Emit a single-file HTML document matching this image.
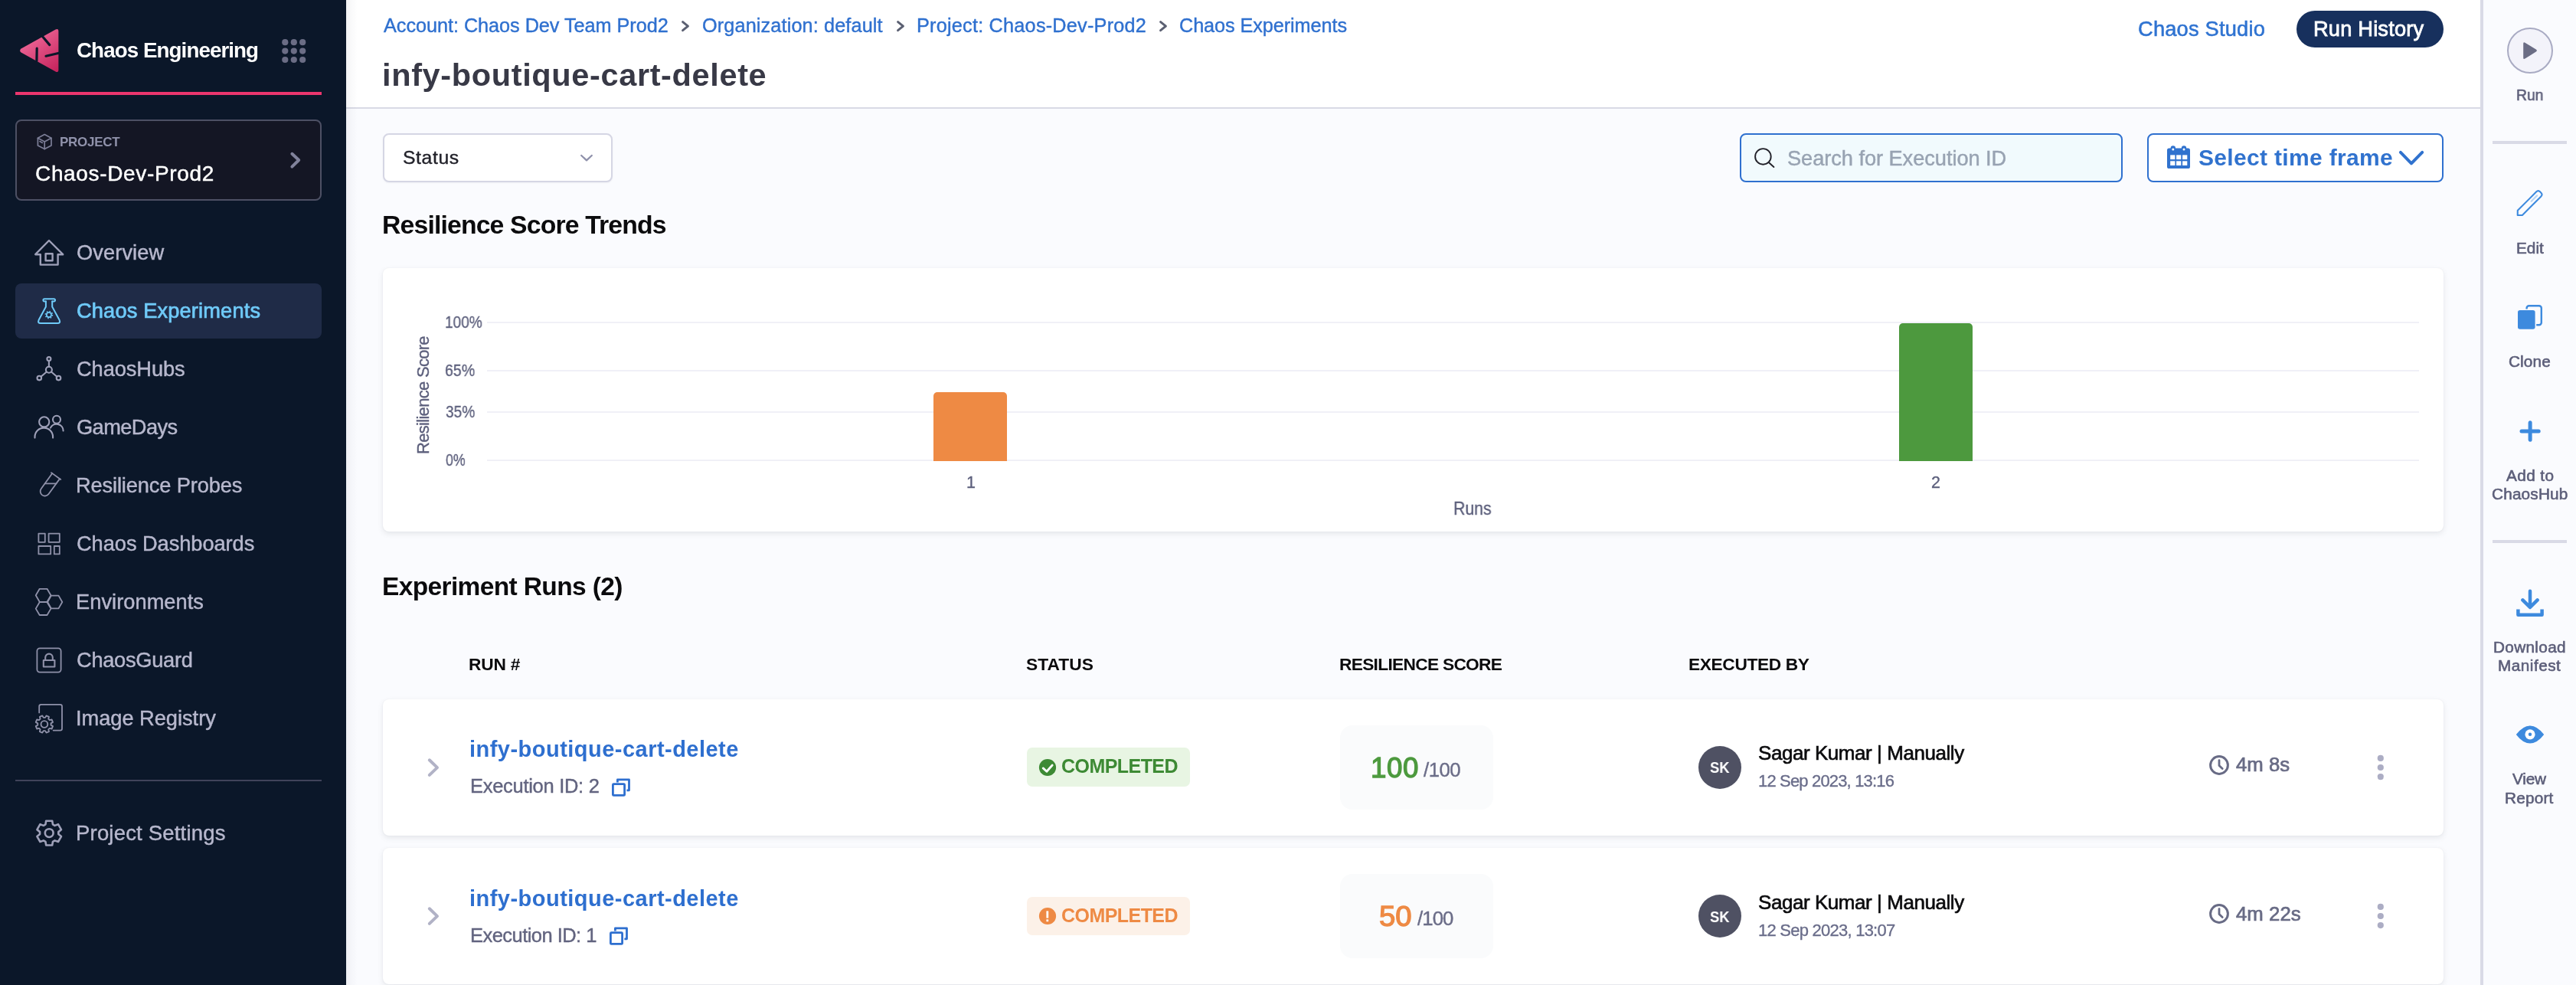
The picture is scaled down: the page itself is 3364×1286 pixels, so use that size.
<!DOCTYPE html>
<html lang="en">
<head>
<meta charset="utf-8">
<title>Chaos Engineering - infy-boutique-cart-delete</title>
<style>
*{box-sizing:border-box;margin:0;padding:0}
html,body{width:3364px;height:1286px;overflow:hidden;background:#fafbfe}
body{font-family:"Liberation Sans",sans-serif;color:#22222a;position:relative}
.abs{position:absolute}
.t{position:absolute;white-space:nowrap;line-height:1;will-change:transform}
svg{position:absolute;overflow:visible}
#side{position:absolute;left:0;top:0;width:452px;height:1286px;background:#0b1729}
</style>
</head>
<body>
<main id="main">
<div class="abs" style="left:500px;top:174px;width:300px;height:64px;border:2px solid #d5d6e4;border-radius:8px;background:#fff;box-shadow:0 1px 2px rgba(96,97,112,.08)"></div>
<div class="t" style="left:526.00px;top:193.80px;font-size:24.75px;letter-spacing:0.602px;color:#22222a;-webkit-text-stroke:0.4px #22222a;">Status</div>
<svg style="left:755px;top:199px;width:22px;height:15px;" viewBox="755 199 22 15"><path d="M759.2 203 L766 209.4 L772.8 203" fill="none" stroke="#8e90aa" stroke-width="2.2" stroke-linecap="round" stroke-linejoin="round"/></svg>
<div class="abs" style="left:2272px;top:174px;width:500px;height:64px;border:2px solid #2f70cf;border-radius:8px;background:#f1fafd"></div>
<svg style="left:2288px;top:190px;width:33px;height:33px;" viewBox="2288 190 33 33"><g fill="none" stroke="#22222a" stroke-width="1.9" stroke-linecap="round"><circle cx="2302.4" cy="204.4" r="10.3"/><path d="M2310 212.2 L2316.4 218"/></g></svg>
<div class="t" style="left:2334.22px;top:193.00px;font-size:27.25px;letter-spacing:-0.070px;color:#98a3b2;-webkit-text-stroke:0.44px #98a3b2;">Search for Execution ID</div>
<div class="abs" style="left:2804px;top:174px;width:387px;height:64px;border:2px solid #2f70cf;border-radius:8px;background:#fff"></div>
<svg style="left:2829px;top:189px;width:32px;height:32px;" viewBox="2829 189 32 32"><rect x="2830" y="193.6" width="30" height="26.4" rx="2.6" fill="#3072ce"/><rect x="2834.6" y="190.2" width="6.4" height="8.6" rx="3.2" fill="#3072ce"/><rect x="2848.8" y="190.2" width="6.4" height="8.6" rx="3.2" fill="#3072ce"/><circle cx="2837.8" cy="195" r="1.5" fill="#fff"/><circle cx="2852" cy="195" r="1.5" fill="#fff"/><rect x="2834.2" y="202.4" width="6.2" height="5.7" fill="#fff"/><rect x="2842.1" y="202.4" width="6.2" height="5.7" fill="#fff"/><rect x="2850.1" y="202.4" width="6.2" height="5.7" fill="#fff"/><rect x="2834.2" y="210.3" width="6.2" height="5.7" fill="#fff"/><rect x="2842.1" y="210.3" width="6.2" height="5.7" fill="#fff"/><rect x="2850.1" y="210.3" width="6.2" height="5.7" fill="#fff"/></svg>
<div class="t" style="left:2870.80px;top:191.00px;font-size:30px;letter-spacing:0.327px;color:#3072ce;font-weight:700;">Select time frame</div>
<svg style="left:3130px;top:194px;width:38px;height:24px;" viewBox="3130 194 38 24"><path d="M3134.9 198.9 L3149 213.3 L3163.2 198.9" fill="none" stroke="#3072ce" stroke-width="4" stroke-linecap="round" stroke-linejoin="round"/></svg>
<div class="t" style="left:499.20px;top:277.40px;font-size:33.75px;letter-spacing:-0.846px;color:#0b0b0d;font-weight:700;">Resilience Score Trends</div>
<div class="abs" style="left:500px;top:350px;width:2691px;height:344px;border-radius:8px;background:#fff;box-shadow:0 0 2px rgba(40,41,61,.06),0 3px 7px rgba(96,97,112,.13)"></div>
<div class="abs" style="left:636px;top:420px;width:2523px;height:2px;background:#f0f0f7"></div>
<div class="abs" style="left:636px;top:483px;width:2523px;height:2px;background:#f0f0f7"></div>
<div class="abs" style="left:636px;top:537px;width:2523px;height:2px;background:#f0f0f7"></div>
<div class="abs" style="left:636px;top:600px;width:2523px;height:2px;background:#f0f0f7"></div>
<div class="t" style="left:581.07px;top:411.10px;font-size:21.25px;letter-spacing:0.000px;color:#5c5f7c;transform:scaleX(0.8953);transform-origin:0 0;-webkit-text-stroke:0.34px #5c5f7c;">100%</div>
<div class="t" style="left:581.05px;top:474.10px;font-size:21.25px;letter-spacing:0.000px;color:#5c5f7c;transform:scaleX(0.9189);transform-origin:0 0;-webkit-text-stroke:0.34px #5c5f7c;">65%</div>
<div class="t" style="left:581.97px;top:528.10px;font-size:21.25px;letter-spacing:0.000px;color:#5c5f7c;transform:scaleX(0.8974);transform-origin:0 0;-webkit-text-stroke:0.34px #5c5f7c;">35%</div>
<div class="t" style="left:581.97px;top:591.10px;font-size:21.25px;letter-spacing:0.000px;color:#5c5f7c;transform:scaleX(0.8391);transform-origin:0 0;-webkit-text-stroke:0.34px #5c5f7c;">0%</div>
<div class="t" style="left:559.42px;top:574.30px;font-size:22px;letter-spacing:-0.699px;color:#5c5f7c;-webkit-text-stroke:0.35px #5c5f7c;transform-origin:1.00px 18.00px;transform:rotate(-90deg);">Resilience Score</div>
<div class="abs" style="left:1219px;top:512px;width:96px;height:90px;border-radius:5px 5px 0 0;background:#ee8a44"></div>
<div class="abs" style="left:2480px;top:422px;width:96px;height:180px;border-radius:5px 5px 0 0;background:#4d993e"></div>
<div class="t" style="left:1261.97px;top:620.20px;font-size:21.5px;letter-spacing:0.000px;color:#5c5f7c;-webkit-text-stroke:0.34px #5c5f7c;">1</div>
<div class="t" style="left:2521.97px;top:620.20px;font-size:21.5px;letter-spacing:0.000px;color:#5c5f7c;-webkit-text-stroke:0.34px #5c5f7c;">2</div>
<div class="t" style="left:1897.99px;top:652.20px;font-size:23.75px;letter-spacing:0.000px;color:#5c5f7c;transform:scaleX(0.8965);transform-origin:0 0;-webkit-text-stroke:0.38px #5c5f7c;">Runs</div>
<div class="t" style="left:499.40px;top:749.00px;font-size:33.5px;letter-spacing:-0.633px;color:#0b0b0d;font-weight:700;">Experiment Runs (2)</div>
<div class="t" style="left:611.80px;top:855.90px;font-size:22.75px;letter-spacing:-0.202px;color:#0b0b0d;font-weight:700;">RUN #</div>
<div class="t" style="left:1340.10px;top:855.90px;font-size:22.75px;letter-spacing:0.050px;color:#0b0b0d;font-weight:700;">STATUS</div>
<div class="t" style="left:1749.20px;top:855.90px;font-size:22.75px;letter-spacing:-0.718px;color:#0b0b0d;font-weight:700;">RESILIENCE SCORE</div>
<div class="t" style="left:2204.50px;top:855.90px;font-size:22.75px;letter-spacing:-0.383px;color:#0b0b0d;font-weight:700;">EXECUTED BY</div>
<div class="abs" style="left:500px;top:913px;width:2691px;height:178px;border-radius:8px;background:#fff;box-shadow:0 0 2px rgba(40,41,61,.06),0 3px 7px rgba(96,97,112,.13)"></div>
<svg style="left:556px;top:987px;width:20px;height:30px;" viewBox="556 987 20 30"><path d="M560.8 992.3 L571 1002.1 L560.8 1011.9" fill="none" stroke="#b1b2c6" stroke-width="4" stroke-linecap="round" stroke-linejoin="round"/></svg>
<div class="t" style="left:612.60px;top:964.00px;font-size:29px;letter-spacing:0.474px;color:#2e6fcf;font-weight:700;">infy-boutique-cart-delete</div>
<div class="t" style="left:613.81px;top:1014.10px;font-size:25.5px;letter-spacing:-0.289px;color:#62647f;-webkit-text-stroke:0.41px #62647f;">Execution ID: 2</div>
<svg style="left:797px;top:1014px;width:28px;height:28px;" viewBox="797 1014 28 28"><g fill="none" stroke="#2e6fcf" stroke-width="2.8" stroke-linejoin="round"><rect x="800.4" y="1023.7" width="15.2" height="14.7" rx="1"/><path d="M806.4 1021.4 L806.4 1017.9 L821.5 1017.9 L821.5 1031.8 L818.4 1031.8"/></g></svg>
<div class="abs" style="left:1341px;top:976px;width:213px;height:51px;border-radius:7px;background:#e8f5e3"></div>
<svg style="left:1356px;top:989.9px;width:24px;height:24px;" viewBox="1356 989.9 24 24"><circle cx="1368" cy="1001.9" r="11.1" fill="#3d8a34"/><path d="M1362.2 1002.8 L1366.9 1007.1 L1374.2 998.9" fill="none" stroke="#fff" stroke-width="2.8" stroke-linecap="round" stroke-linejoin="round"/></svg>
<div class="t" style="left:1386.30px;top:988.00px;font-size:25px;letter-spacing:-0.549px;color:#3d8a34;font-weight:700;">COMPLETED</div>
<div class="abs" style="left:1750px;top:946.5px;width:200px;height:110px;border-radius:16px;background:#fafbfc"></div>
<div class="t" style="left:1790.45px;top:984.50px;font-size:36.75px;letter-spacing:0.511px;color:#4d9a3e;-webkit-text-stroke:1.3px #4d9a3e;">100</div>
<div class="t" style="left:1859.20px;top:992.70px;font-size:25.75px;letter-spacing:-0.502px;color:#6b6d88;-webkit-text-stroke:0.41px #6b6d88;">/100</div>
<div class="abs" style="left:2218px;top:974px;width:56px;height:56px;border-radius:50%;background:#4f5163"></div>
<div class="t" style="left:2233.10px;top:992.00px;font-size:20px;letter-spacing:0.000px;color:#fff;transform:scaleX(0.9210);transform-origin:0 0;font-weight:700;">SK</div>
<div class="t" style="left:2296.02px;top:970.20px;font-size:26px;letter-spacing:-0.442px;color:#0b0b0d;-webkit-text-stroke:0.65px #0b0b0d;">Sagar Kumar | Manually</div>
<div class="t" style="left:2295.88px;top:1009.20px;font-size:22px;letter-spacing:-0.834px;color:#6a6d8a;-webkit-text-stroke:0.35px #6a6d8a;">12 Sep 2023, 13:16</div>
<svg style="left:2884px;top:984.9px;width:28px;height:28px;" viewBox="2884 984.9 28 28"><g fill="none" stroke="#686b85" stroke-width="3" stroke-linecap="round" stroke-linejoin="round"><circle cx="2898" cy="998.9" r="11.4"/><path d="M2898 992.5 L2898 999.5 L2902.2 1003.5" stroke-width="2.8"/></g></svg>
<div class="t" style="left:2920.25px;top:986.10px;font-size:25.75px;letter-spacing:-0.011px;color:#686b85;-webkit-text-stroke:0.7px #686b85;">4m 8s</div>
<svg style="left:3103px;top:984px;width:12px;height:36px;" viewBox="3103 984 12 36"><g fill="#acadc4"><circle cx="3108.8" cy="989.9" r="4.1"/><circle cx="3108.8" cy="1002" r="4.1"/><circle cx="3108.8" cy="1014.1" r="4.1"/></g></svg>
<div class="abs" style="left:500px;top:1107px;width:2691px;height:178px;border-radius:8px;background:#fff;box-shadow:0 0 2px rgba(40,41,61,.06),0 3px 7px rgba(96,97,112,.13)"></div>
<svg style="left:556px;top:1181px;width:20px;height:30px;" viewBox="556 1181 20 30"><path d="M560.8 1186.3 L571 1196.1 L560.8 1205.9" fill="none" stroke="#b1b2c6" stroke-width="4" stroke-linecap="round" stroke-linejoin="round"/></svg>
<div class="t" style="left:612.60px;top:1159.00px;font-size:29px;letter-spacing:0.474px;color:#2e6fcf;font-weight:700;">infy-boutique-cart-delete</div>
<div class="t" style="left:613.81px;top:1209.10px;font-size:25.5px;letter-spacing:-0.539px;color:#62647f;-webkit-text-stroke:0.41px #62647f;">Execution ID: 1</div>
<svg style="left:794px;top:1208px;width:28px;height:28px;" viewBox="794 1208 28 28"><g fill="none" stroke="#2e6fcf" stroke-width="2.8" stroke-linejoin="round"><rect x="797.4" y="1217.7" width="15.2" height="14.7" rx="1"/><path d="M803.4 1215.4 L803.4 1211.9 L818.5 1211.9 L818.5 1225.8 L815.4 1225.8"/></g></svg>
<div class="abs" style="left:1341px;top:1171px;width:213px;height:50px;border-radius:7px;background:#fcf1e8"></div>
<svg style="left:1356px;top:1183.9px;width:24px;height:24px;" viewBox="1356 1183.9 24 24"><circle cx="1368" cy="1195.9" r="11.1" fill="#ee8a44"/><path d="M1367.8 1189.3 L1367.8 1198.5" stroke="#fff" stroke-width="2.8" stroke-linecap="butt"/><rect x="1366.4" y="1200.3" width="2.8" height="2.8" fill="#fff"/></svg>
<div class="t" style="left:1386.30px;top:1183.00px;font-size:25px;letter-spacing:-0.549px;color:#ee8a44;font-weight:700;">COMPLETED</div>
<div class="abs" style="left:1750px;top:1140.5px;width:200px;height:110px;border-radius:16px;background:#fafbfc"></div>
<div class="t" style="left:1801.41px;top:1178.50px;font-size:36.75px;letter-spacing:0.000px;color:#ee8a44;transform:scaleX(1.0432);transform-origin:0 0;-webkit-text-stroke:1.3px #ee8a44;">50</div>
<div class="t" style="left:1850.80px;top:1186.70px;font-size:25.75px;letter-spacing:-0.902px;color:#6b6d88;-webkit-text-stroke:0.41px #6b6d88;">/100</div>
<div class="abs" style="left:2218px;top:1168px;width:56px;height:56px;border-radius:50%;background:#4f5163"></div>
<div class="t" style="left:2233.10px;top:1187.00px;font-size:20px;letter-spacing:0.000px;color:#fff;transform:scaleX(0.9210);transform-origin:0 0;font-weight:700;">SK</div>
<div class="t" style="left:2296.02px;top:1165.20px;font-size:26px;letter-spacing:-0.442px;color:#0b0b0d;-webkit-text-stroke:0.65px #0b0b0d;">Sagar Kumar | Manually</div>
<div class="t" style="left:2295.88px;top:1204.20px;font-size:22px;letter-spacing:-0.757px;color:#6a6d8a;-webkit-text-stroke:0.35px #6a6d8a;">12 Sep 2023, 13:07</div>
<svg style="left:2884px;top:1178.9px;width:28px;height:28px;" viewBox="2884 1178.9 28 28"><g fill="none" stroke="#686b85" stroke-width="3" stroke-linecap="round" stroke-linejoin="round"><circle cx="2898" cy="1192.9" r="11.4"/><path d="M2898 1186.5 L2898 1193.5 L2902.2 1197.5" stroke-width="2.8"/></g></svg>
<div class="t" style="left:2920.25px;top:1181.10px;font-size:25.75px;letter-spacing:0.047px;color:#686b85;-webkit-text-stroke:0.7px #686b85;">4m 22s</div>
<svg style="left:3103px;top:1178px;width:12px;height:36px;" viewBox="3103 1178 12 36"><g fill="#acadc4"><circle cx="3108.8" cy="1183.9" r="4.1"/><circle cx="3108.8" cy="1196" r="4.1"/><circle cx="3108.8" cy="1208.1" r="4.1"/></g></svg>
</main>
<header id="head">
<div class="abs" style="left:452px;top:0;width:2787px;height:142px;background:#fff;border-bottom:2px solid #d9dae5"></div>
<div class="t" style="left:500.70px;top:20.50px;font-size:25.25px;letter-spacing:-0.042px;color:#2f70cf;-webkit-text-stroke:0.4px #2f70cf;">Account: Chaos Dev Team Prod2</div>
<div class="t" style="left:917.20px;top:20.50px;font-size:25.25px;letter-spacing:0.130px;color:#2f70cf;-webkit-text-stroke:0.4px #2f70cf;">Organization: default</div>
<div class="t" style="left:1196.90px;top:20.50px;font-size:25.25px;letter-spacing:0.223px;color:#2f70cf;-webkit-text-stroke:0.4px #2f70cf;">Project: Chaos-Dev-Prod2</div>
<div class="t" style="left:1540.40px;top:20.50px;font-size:25.25px;letter-spacing:-0.082px;color:#2f70cf;-webkit-text-stroke:0.4px #2f70cf;">Chaos Experiments</div>
<svg style="left:888px;top:25px;width:14px;height:18.4px;" viewBox="888 25 14 18.4"><path d="M891.6 28.7 L898.4 34.2 L891.6 39.7" fill="none" stroke="#5b6072" stroke-width="3" stroke-linecap="round" stroke-linejoin="round"/></svg>
<svg style="left:1168.8px;top:25px;width:14px;height:18.4px;" viewBox="1168.8 25 14 18.4"><path d="M1172.3999999999999 28.7 L1179.2 34.2 L1172.3999999999999 39.7" fill="none" stroke="#5b6072" stroke-width="3" stroke-linecap="round" stroke-linejoin="round"/></svg>
<svg style="left:1511.6px;top:25px;width:14px;height:18.4px;" viewBox="1511.6 25 14 18.4"><path d="M1515.1999999999998 28.7 L1522.0 34.2 L1515.1999999999998 39.7" fill="none" stroke="#5b6072" stroke-width="3" stroke-linecap="round" stroke-linejoin="round"/></svg>
<div class="t" style="left:499.00px;top:76.50px;font-size:41.5px;letter-spacing:0.633px;color:#383946;font-weight:700;">infy-boutique-cart-delete</div>
<div class="t" style="left:2792.08px;top:23.90px;font-size:27.25px;letter-spacing:0.200px;color:#2f73d1;-webkit-text-stroke:0.55px #2f73d1;">Chaos Studio</div>
<div class="abs" style="left:2999px;top:14px;width:192px;height:48px;border-radius:24px;background:#17305d"></div>
<div class="t" style="left:3021.40px;top:23.90px;font-size:27.25px;letter-spacing:0.178px;color:#fff;-webkit-text-stroke:0.8px #fff;">Run History</div>
<div class="abs" style="left:452px;top:0;width:15px;height:1286px;background:linear-gradient(to right,rgba(30,36,66,.06),rgba(30,36,66,.022) 45%,rgba(30,36,66,0))"></div>
</header>
<aside id="rail">
<div class="abs" style="left:3239px;top:0;width:125px;height:1286px;background:#fafbfe;border-left:4px solid #d9dae6"></div>
<div class="abs" style="left:3274px;top:36px;width:60px;height:60px;border-radius:50%;background:#f3f3fa;border:2px solid #a9abc3"></div>
<svg style="left:3293px;top:53px;width:23px;height:26px;" viewBox="3293 53 23 26"><path d="M3295.2 57 Q3295.2 54.4 3297.4 55.8 L3311.8 64.4 Q3314 66 3311.8 67.6 L3297.4 76.6 Q3295.2 78 3295.2 75.4 Z" fill="#6b6d85"/></svg>
<div class="t" style="left:3285.77px;top:114.30px;font-size:20.75px;letter-spacing:0.000px;color:#5c5e79;transform:scaleX(0.9309);transform-origin:0 0;-webkit-text-stroke:0.6px #5c5e79;">Run</div>
<div class="t" style="left:3285.50px;top:313.60px;font-size:20.75px;letter-spacing:0.003px;color:#5c5e79;-webkit-text-stroke:0.6px #5c5e79;">Edit</div>
<div class="t" style="left:3276.00px;top:461.80px;font-size:20.75px;letter-spacing:0.131px;color:#5c5e79;-webkit-text-stroke:0.6px #5c5e79;">Clone</div>
<div class="t" style="left:3272.90px;top:610.90px;font-size:20.75px;letter-spacing:0.390px;color:#5c5e79;-webkit-text-stroke:0.6px #5c5e79;">Add to</div>
<div class="t" style="left:3253.70px;top:634.80px;font-size:20.75px;letter-spacing:0.185px;color:#5c5e79;-webkit-text-stroke:0.6px #5c5e79;">ChaosHub</div>
<div class="t" style="left:3256.10px;top:834.70px;font-size:20.75px;letter-spacing:0.323px;color:#5c5e79;-webkit-text-stroke:0.6px #5c5e79;">Download</div>
<div class="t" style="left:3262.30px;top:858.60px;font-size:20.75px;letter-spacing:0.492px;color:#5c5e79;-webkit-text-stroke:0.6px #5c5e79;">Manifest</div>
<div class="t" style="left:3281.10px;top:1007.00px;font-size:20.75px;letter-spacing:-0.205px;color:#5c5e79;-webkit-text-stroke:0.6px #5c5e79;">View</div>
<div class="t" style="left:3271.30px;top:1032.00px;font-size:20.75px;letter-spacing:0.217px;color:#5c5e79;-webkit-text-stroke:0.6px #5c5e79;">Report</div>
<div class="abs" style="left:3255px;top:184px;width:97px;height:4px;background:#d9dae6"></div>
<div class="abs" style="left:3255px;top:705px;width:97px;height:4px;background:#d9dae6"></div>
<svg style="left:3284px;top:247px;width:38px;height:38px;" viewBox="3284 247 38 38"><g transform="translate(3303 265.7) rotate(-45)" fill="none" stroke="#3d8ade" stroke-width="2.1" stroke-linejoin="round"><path d="M-17.2 -4.3 L17.4 -4.3 Q20.8 -4.3 20.8 -1 L20.8 1 Q20.8 4.3 17.4 4.3 L-17.2 4.3 L-21.6 0 Z"/><path d="M4 -0.2 L14.4 -0.2" stroke="#b9d5f4" stroke-width="2.2" stroke-linecap="round"/></g></svg>
<svg style="left:3285px;top:396px;width:37px;height:36px;" viewBox="3285 396 37 36"><rect x="3299.6" y="399.2" width="19.2" height="25" rx="3" fill="none" stroke="#3d8ade" stroke-width="2.4"/><rect x="3287.2" y="404.2" width="24.2" height="26.4" rx="3.6" fill="#3d8ade" stroke="#fafbfe" stroke-width="1.6"/></svg>
<svg style="left:3289px;top:548px;width:30px;height:30px;" viewBox="3289 548 30 30"><path d="M3293 563 L3315.2 563 M3304.1 551.8 L3304.1 574.2" stroke="#3d8ade" stroke-width="5" stroke-linecap="round" fill="none"/></svg>
<svg style="left:3285px;top:768px;width:38px;height:38px;" viewBox="3285 768 38 38"><g fill="none" stroke="#3d8ade" stroke-width="4.5" stroke-linecap="round" stroke-linejoin="round"><path d="M3304 771.8 L3304 792.4 M3294.4 783.4 L3304 793 L3313.6 783.4"/><path d="M3288.4 795.6 L3288.4 802.7 L3319.6 802.7 L3319.6 795.6" stroke-linecap="butt"/></g></svg>
<svg style="left:3284px;top:946px;width:40px;height:26px;" viewBox="3284 946 40 26"><path d="M3285.8 959 Q3294.6 947.4 3304 947.4 Q3313.4 947.4 3322.2 959 Q3313.4 970.5 3304 970.5 Q3294.6 970.5 3285.8 959 Z" fill="#3d8ade"/><circle cx="3304" cy="958.8" r="6.6" fill="#fff"/><circle cx="3304" cy="958.8" r="2.2" fill="#3d8ade"/></svg>
</aside>
<nav id="side">
<svg style="left:24px;top:36px;width:54px;height:60px;" viewBox="24 36 54 60"><defs><linearGradient id="lg" x1="0.2" y1="0" x2="0.9" y2="1"><stop offset="0" stop-color="#f3709f"/><stop offset="1" stop-color="#c5245d"/></linearGradient></defs><path d="M72.6 38.6 L27.6 63.4 Q24.6 66 27.6 68.6 L72.6 93.4 Q76.4 95.2 76.4 91 L76.4 41 Q76.4 36.8 72.6 38.6 Z" fill="url(#lg)"/><g stroke="#0b1729" stroke-width="3.2" stroke-linecap="round" fill="none"><path d="M55.6 47.8 L64.8 58.6"/><path d="M48.2 63.2 L47.9 79.4"/><path d="M60 73.2 L77 69.2"/></g></svg>
<div class="t" style="left:99.50px;top:51.50px;font-size:27.75px;letter-spacing:-0.926px;color:#fff;font-weight:700;">Chaos Engineering</div>
<svg style="left:366px;top:49px;width:35px;height:35px;" viewBox="366 49 35 35"><g fill="#6b6d85"><circle cx="372.3" cy="55.2" r="4.1"/><circle cx="383.8" cy="55.2" r="4.1"/><circle cx="395.2" cy="55.2" r="4.1"/><circle cx="372.3" cy="66.6" r="4.1"/><circle cx="383.8" cy="66.6" r="4.1"/><circle cx="395.2" cy="66.6" r="4.1"/><circle cx="372.3" cy="78.0" r="4.1"/><circle cx="383.8" cy="78.0" r="4.1"/><circle cx="395.2" cy="78.0" r="4.1"/></g></svg>
<div class="abs" style="left:20px;top:120px;width:400px;height:4px;background:#ec366e"></div>
<div class="abs" style="left:20px;top:156px;width:400px;height:106px;border:2px solid #4d5064;border-radius:8px;background:#141624"></div>
<svg style="left:47px;top:173px;width:23px;height:24px;" viewBox="47 173 23 24"><g fill="none" stroke="#7c7e97" stroke-width="1.7" stroke-linejoin="round" stroke-linecap="round"><path d="M58.2 175.6 L67 180.3 L67 190 L58.2 194.6 L49.4 190 L49.4 180.3 Z"/><path d="M49.4 180.3 L58.2 185 L67 180.3 M58.2 185 L58.2 194.6 M52 184.6 L55.4 186.4"/></g></svg>
<div class="t" style="left:77.60px;top:177.25px;font-size:17px;letter-spacing:-0.285px;color:#9092ab;font-weight:700;">PROJECT</div>
<div class="t" style="left:46.02px;top:213.40px;font-size:28px;letter-spacing:0.659px;color:#fff;-webkit-text-stroke:0.45px #fff;">Chaos-Dev-Prod2</div>
<svg style="left:376px;top:196px;width:19px;height:26px;" viewBox="376 196 19 26"><path d="M381.4 200.8 L390.2 209 L381.4 217.6" fill="none" stroke="#80829b" stroke-width="4" stroke-linecap="round" stroke-linejoin="round"/></svg>
<div class="abs" style="left:20px;top:370px;width:400px;height:72px;border-radius:8px;background:#1f2b47"></div>
<svg style="left:41px;top:309px;width:46px;height:42px;" viewBox="41 309 46 42"><g fill="none" stroke="#9ea0b8" stroke-width="2.4" stroke-linecap="round" stroke-linejoin="round"><path d="M64 314 L46.2 332.2 L52.8 332.2 L52.8 345.6 L75.6 345.6 L75.6 332.2 L82.2 332.2 Z"/><rect x="59.6" y="331.2" width="9" height="9"/></g></svg>
<svg style="left:45px;top:385px;width:38px;height:42px;" viewBox="45 385 38 42"><g fill="none" stroke="#6fcaf8" stroke-width="2" stroke-linecap="round" stroke-linejoin="round"><path d="M59.9 393.4 L58 393.4 Q56.4 393.4 56.4 391.8 Q56.4 390.2 58 390.2 L70.4 390.2 Q72 390.2 72 391.8 Q72 393.4 70.4 393.4 L68.2 393.4"/><path d="M59.9 393.4 L59.9 400.6 L50.6 417.8 Q48.8 421.9 53 421.9 L75.2 421.9 Q79.4 421.9 77.6 417.8 L68.2 400.6 L68.2 393.4"/><circle cx="63.9" cy="411" r="3.1" stroke-width="1.7"/><circle cx="63.9" cy="411" r="4.6" stroke-width="1.5" stroke-dasharray="1.5 2.11" stroke-linecap="butt"/></g></svg>
<svg style="left:44px;top:461px;width:40px;height:40px;" viewBox="44 461 40 40"><g fill="none" stroke="#9ea0b8" stroke-width="2.1" stroke-linecap="round" stroke-linejoin="round"><circle cx="63.9" cy="468.6" r="2.5"/><circle cx="63.9" cy="482.8" r="4"/><circle cx="51.3" cy="493.6" r="2.8"/><circle cx="76.5" cy="493.6" r="2.8"/><path d="M63.9 471.2 L63.9 478.6 M60.8 485.5 L53.5 491.7 M67 485.5 L74.3 491.7"/></g></svg>
<svg style="left:41px;top:538px;width:46px;height:38px;" viewBox="41 538 46 38"><g fill="none" stroke="#9ea0b8" stroke-width="2.1" stroke-linecap="round" stroke-linejoin="round"><circle cx="57.7" cy="550.8" r="6.6"/><path d="M45.5 571.6 L45.5 570.4 A11.8 11.8 0 0 1 69.1 570.4 L69.1 571.6"/><circle cx="74" cy="547.8" r="5"/><path d="M65.9 558.6 A8.8 8.8 0 0 1 82.6 562.4"/></g></svg>
<svg style="left:46px;top:612px;width:38px;height:42px;" viewBox="46 612 38 42"><g fill="none" stroke="#8f91a9" stroke-width="1.8" stroke-linecap="round" stroke-linejoin="round" transform="translate(73.1 621.6) rotate(36)"><path d="M-7.6 0 L7.6 0"/><path d="M-6 0 L-6 24.6 A6 6 0 0 0 6 24.6 L6 0"/><path d="M-6 16.4 L6 7.6"/></g></svg>
<svg style="left:46px;top:692px;width:36px;height:36px;" viewBox="46 692 36 36"><g fill="none" stroke="#8f91a9" stroke-width="1.8" stroke-linecap="round" stroke-linejoin="round"><rect x="50.4" y="696.6" width="8.4" height="11.2"/><rect x="63.6" y="696.6" width="14.2" height="11.2"/><rect x="50.4" y="713" width="15.8" height="10.4"/><rect x="70.8" y="713" width="7" height="10.4"/></g></svg>
<svg style="left:43px;top:765px;width:42px;height:42px;" viewBox="43 765 42 42"><g fill="none" stroke="#8f91a9" stroke-width="1.8" stroke-linecap="round" stroke-linejoin="round"><path d="M46.75 777.30 L51.68 768.80 L61.52 768.80 L66.45 777.30 L61.52 785.80 L51.68 785.80 Z"/><path d="M62.10 786.00 L66.90 777.65 L76.50 777.65 L81.30 786.00 L76.50 794.35 L66.90 794.35 Z"/><path d="M46.75 794.60 L51.68 786.20 L61.52 786.20 L66.45 794.60 L61.52 803.00 L51.68 803.00 Z"/></g></svg>
<svg style="left:44px;top:842px;width:40px;height:40px;" viewBox="44 842 40 40"><g fill="none" stroke="#8f91a9" stroke-width="1.8" stroke-linecap="round" stroke-linejoin="round"><rect x="48.4" y="846.4" width="31.2" height="31.2" rx="3.6"/><rect x="56.8" y="862" width="14.6" height="8.5" stroke-width="2.1"/><path d="M59.2 862 L59.2 858.4 A4.8 4.8 0 0 1 68.8 858.4 L68.8 862" stroke-width="2.1"/></g></svg>
<svg style="left:42px;top:915px;width:44px;height:46px;" viewBox="42 915 44 46"><g fill="none" stroke="#8f91a9" stroke-width="1.8" stroke-linecap="round" stroke-linejoin="round"><path d="M51.2 930.4 L51.2 922.2 Q51.2 919.8 53.6 919.8 L78.6 919.8 Q81 919.8 81 922.2 L81 951.2 Q81 953.6 78.6 953.6 L69.6 953.6"/><path d="M66.53 946.58 L69.00 948.08 L67.58 951.53 L64.77 950.84 L63.24 952.37 L63.93 955.18 L60.48 956.60 L58.98 954.13 L56.82 954.13 L55.32 956.60 L51.87 955.18 L52.56 952.37 L51.03 950.84 L48.22 951.53 L46.80 948.08 L49.27 946.58 L49.27 944.42 L46.80 942.92 L48.22 939.47 L51.03 940.16 L52.56 938.63 L51.87 935.82 L55.32 934.40 L56.82 936.87 L58.98 936.87 L60.48 934.40 L63.93 935.82 L63.24 938.63 L64.77 940.16 L67.58 939.47 L69.00 942.92 L66.53 944.42 Z" stroke-width="1.9"/><circle cx="57.9" cy="945.5" r="4.4" stroke-width="1.9"/></g></svg>
<div class="t" style="left:100.12px;top:315.90px;font-size:27.25px;letter-spacing:0.082px;color:#b7b8cd;-webkit-text-stroke:0.44px #b7b8cd;">Overview</div>
<div class="t" style="left:100.25px;top:391.90px;font-size:27.25px;letter-spacing:0.140px;color:#6fcaf8;-webkit-text-stroke:0.7px #6fcaf8;">Chaos Experiments</div>
<div class="t" style="left:100.12px;top:467.90px;font-size:27.25px;letter-spacing:-0.087px;color:#b7b8cd;-webkit-text-stroke:0.44px #b7b8cd;">ChaosHubs</div>
<div class="t" style="left:100.12px;top:543.90px;font-size:27.25px;letter-spacing:-0.601px;color:#b7b8cd;-webkit-text-stroke:0.44px #b7b8cd;">GameDays</div>
<div class="t" style="left:99.12px;top:619.90px;font-size:27.25px;letter-spacing:-0.146px;color:#b7b8cd;-webkit-text-stroke:0.44px #b7b8cd;">Resilience Probes</div>
<div class="t" style="left:100.12px;top:695.90px;font-size:27.25px;letter-spacing:-0.066px;color:#b7b8cd;-webkit-text-stroke:0.44px #b7b8cd;">Chaos Dashboards</div>
<div class="t" style="left:99.12px;top:771.90px;font-size:27.25px;letter-spacing:0.035px;color:#b7b8cd;-webkit-text-stroke:0.44px #b7b8cd;">Environments</div>
<div class="t" style="left:100.12px;top:847.90px;font-size:27.25px;letter-spacing:-0.299px;color:#b7b8cd;-webkit-text-stroke:0.44px #b7b8cd;">ChaosGuard</div>
<div class="t" style="left:99.12px;top:923.90px;font-size:27.25px;letter-spacing:-0.035px;color:#b7b8cd;-webkit-text-stroke:0.44px #b7b8cd;">Image Registry</div>
<div class="abs" style="left:20px;top:1018px;width:400px;height:2px;background:#40435a"></div>
<svg style="left:43px;top:1066px;width:42px;height:43px;" viewBox="43 1066 42 43"><g fill="none" stroke="#9ea0b8" stroke-width="2.6" stroke-linejoin="round"><path d="M68.98 1098.82 L68.21 1103.50 L60.19 1103.50 L59.42 1098.82 L56.87 1097.35 L52.43 1099.02 L48.42 1092.08 L52.09 1089.07 L52.09 1086.13 L48.42 1083.12 L52.43 1076.18 L56.87 1077.85 L59.42 1076.38 L60.19 1071.70 L68.21 1071.70 L68.98 1076.38 L71.53 1077.85 L75.97 1076.18 L79.98 1083.12 L76.31 1086.13 L76.31 1089.07 L79.98 1092.08 L75.97 1099.02 L71.53 1097.35 Z"/><circle cx="64.2" cy="1087.6" r="5.4"/></g></svg>
<div class="t" style="left:99.42px;top:1074.10px;font-size:27.5px;letter-spacing:0.188px;color:#b7b8cd;-webkit-text-stroke:0.44px #b7b8cd;">Project Settings</div>
</nav>
</body>
</html>
